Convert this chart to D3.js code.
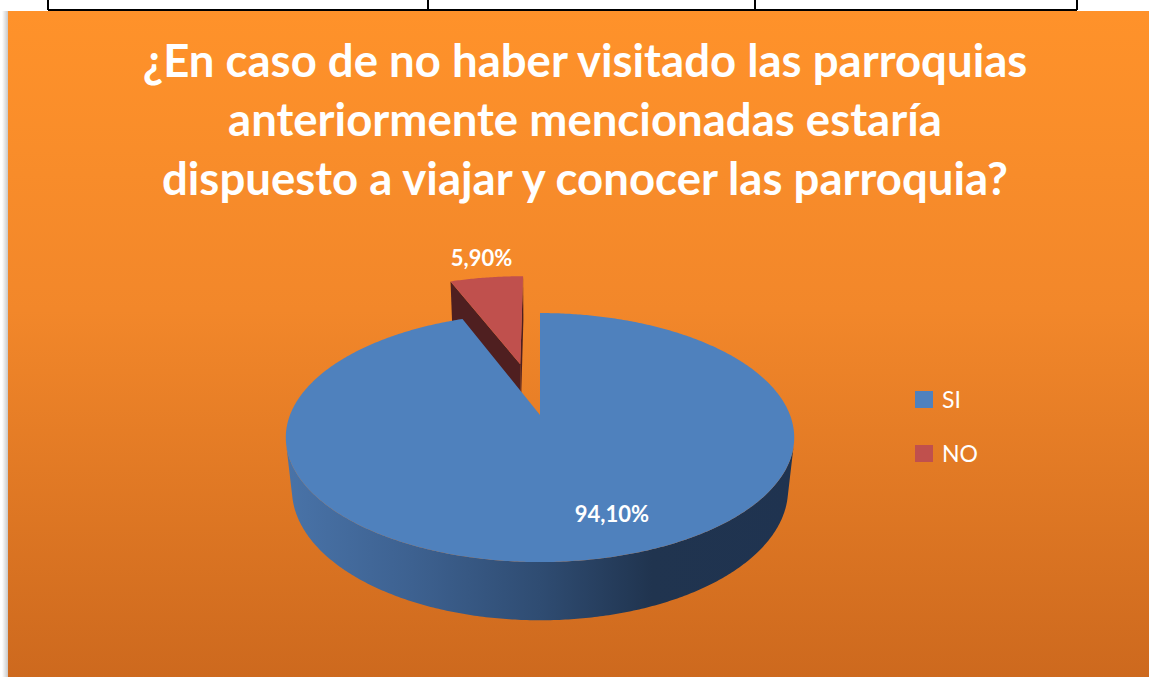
<!DOCTYPE html>
<html><head><meta charset="utf-8">
<script src="https://cdn.jsdelivr.net/npm/d3@7"></script>
<style>body{margin:0;background:#fff;overflow:hidden;} svg{display:block;}</style>
</head><body>
<svg id="chart" width="1149" height="677"></svg>
<script>
// ---- data ----
const titleLines = ["¿En caso de no haber visitado las parroquias",
                    "anteriormente mencionadas estaría",
                    "dispuesto a viajar y conocer las parroquia?"];
const categories = ["SI", "NO"];
const values = [94.1, 5.9];
const valueLabels = ["94,10%", "5,90%"];
const colors = ["#4F81BD", "#C0504D"];
const sideColors = ["#2C4A70", "#4F1F20"];

// ---- layout ----
const W = 1149, H = 677;
const svg = d3.select("#chart");
const defs = svg.append("defs");

const bg = defs.append("linearGradient").attr("id", "bg").attr("x1", 0).attr("y1", 0).attr("x2", 0).attr("y2", 1);
bg.append("stop").attr("offset", "0%").attr("stop-color", "#FF922A");
bg.append("stop").attr("offset", "45%").attr("stop-color", "#F2872A");
bg.append("stop").attr("offset", "100%").attr("stop-color", "#CD691E");

const sh = defs.append("linearGradient").attr("id", "sh").attr("x1", 0).attr("y1", 0).attr("x2", 1).attr("y2", 0);
sh.append("stop").attr("offset", "0%").attr("stop-color", "#ffffff");
sh.append("stop").attr("offset", "100%").attr("stop-color", "#c8c8c8");

// table remnants on top
svg.append("rect").attr("x", 0).attr("y", 0).attr("width", W).attr("height", H).attr("fill", "#fff");
svg.append("rect").attr("x", 2).attr("y", 11).attr("width", 6).attr("height", H - 11).attr("fill", "url(#sh)");
svg.append("rect").attr("x", 8).attr("y", 11).attr("width", W - 8).attr("height", H - 11).attr("fill", "url(#bg)");
const tableCols = [48, 428, 755, 1077];
svg.append("line").attr("x1", tableCols[0]).attr("x2", tableCols[3]).attr("y1", 10).attr("y2", 10)
  .attr("stroke", "#000").attr("stroke-width", 2);
tableCols.forEach(x => svg.append("line").attr("x1", x).attr("x2", x).attr("y1", 0).attr("y2", 10)
  .attr("stroke", "#000").attr("stroke-width", 2));

// ---- title ----
const titleX = 585, titleBase = [77, 136, 195];
const tg = svg.append("g");
const tlines = tg.selectAll("text").data(titleLines).enter().append("text")
  .attr("x", titleX).attr("y", (d, i) => titleBase[i])
  .attr("text-anchor", "middle").attr("fill", "#fff")
  .attr("font-family", "Lato, 'Open Sans', sans-serif").attr("font-weight", "bold")
  .attr("font-size", 40).text(d => d);
const w0 = tlines.nodes()[0].getComputedTextLength();
const fs = 40 * 885 / w0;
tlines.attr("font-size", fs);

// ---- 3D pie projection ----
const R = 250, depth = 60, tilt = 28.8 * Math.PI / 180, D = 1210;
const cx = 540, cy = 415;
const ca = Math.cos(tilt), sa = Math.sin(tilt);
const explode = [0, 116];

function rot(x, yUp, z) { return [x, yUp * ca + z * sa, z * ca - yUp * sa]; }
function proj(x, yUp, z) {
  const [xr, yr, zr] = rot(x, yUp, z);
  const f = D / (D + zr);
  return [cx + xr * f, cy - yr * f];
}
function visible(n, p) {
  const nr = rot(n[0], n[1], n[2]);
  const pr = rot(p[0], p[1], p[2]);
  const v = [-pr[0], -pr[1], -D - pr[2]];
  return nr[0] * v[0] + nr[1] * v[1] + nr[2] * v[2] > 0;
}

const pie = d3.pie().sort(null).value(d => d)(values);
const arcs = pie.map((p, i) => {
  const mid = (p.startAngle + p.endAngle) / 2;
  return { ...p, i, mid, ox: explode[i] * Math.sin(mid), oz: explode[i] * Math.cos(mid) };
});
const line = d3.line();
const STEP = 0.01;
function rimPt(s, a, yUp, r = R) { return [s.ox + r * Math.sin(a), yUp, s.oz + r * Math.cos(a)]; }
function angles(a0, a1) {
  const n = Math.max(2, Math.ceil((a1 - a0) / STEP));
  return d3.range(n + 1).map(k => a0 + (a1 - a0) * k / n);
}

// rim gradient (horizontal across the pie)
const xs = angles(0, 2 * Math.PI).map(a => proj(R * Math.sin(a), 0, R * Math.cos(a))[0]);
const rg = defs.append("linearGradient").attr("id", "rim").attr("gradientUnits", "userSpaceOnUse")
  .attr("x1", d3.min(xs)).attr("x2", d3.max(xs)).attr("y1", 0).attr("y2", 0);
[["0%", "#4973A8"], ["25%", "#3D6190"], ["50%", "#2F4C72"], ["72%", "#20344F"], ["100%", "#1F3350"]]
  .forEach(([o, c]) => rg.append("stop").attr("offset", o).attr("stop-color", c));

// draw back slices first (farther centre first)
const order = arcs.slice().sort((a, b) => b.oz - a.oz);
const pieG = svg.append("g");
order.forEach(s => {
  const g = pieG.append("g");
  // cut faces
  [[s.startAngle, [-Math.cos(s.startAngle), 0, Math.sin(s.startAngle)]],
   [s.endAngle, [Math.cos(s.endAngle), 0, -Math.sin(s.endAngle)]]].forEach(([a, n]) => {
    const mp = rimPt(s, a, -depth / 2, R / 2);
    if (!visible(n, mp)) return;
    const pts = [proj(s.ox, 0, s.oz), proj(...rimPt(s, a, 0)), proj(...rimPt(s, a, -depth)), proj(s.ox, -depth, s.oz)];
    g.append("path").attr("d", line(pts) + "Z").attr("fill", sideColors[s.i]);
  });
  // outer rim: visible segments
  const as = angles(s.startAngle, s.endAngle);
  let seg = [];
  const segs = [];
  as.forEach(a => {
    const v = visible([Math.sin(a), 0, Math.cos(a)], rimPt(s, a, -depth / 2));
    if (v) seg.push(a); else if (seg.length) { segs.push(seg); seg = []; }
  });
  if (seg.length) segs.push(seg);
  segs.forEach(sg => {
    const top = sg.map(a => proj(...rimPt(s, a, 0)));
    const bot = sg.slice().reverse().map(a => proj(...rimPt(s, a, -depth)));
    g.append("path").attr("d", line(top.concat(bot)) + "Z")
      .attr("fill", s.i === 0 ? "url(#rim)" : sideColors[s.i]);
  });
  // top face
  const topPts = [proj(s.ox, 0, s.oz)].concat(as.map(a => proj(...rimPt(s, a, 0))));
  g.append("path").attr("d", line(topPts) + "Z").attr("fill", colors[s.i]);
});

// ---- data labels ----
const labelPos = [
  s => proj(...rimPt(s, s.mid - 0.15, 0, R * 0.76)),
  s => { const p = proj(...rimPt(s, s.mid, 0)); return [p[0] - 5, p[1] - 19]; }
];
arcs.forEach(s => {
  const p = labelPos[s.i](s);
  svg.append("text").attr("x", p[0]).attr("y", p[1]).attr("dy", "0.35em")
    .attr("text-anchor", "middle").attr("fill", "#fff")
    .attr("font-family", "Lato, 'Open Sans', sans-serif").attr("font-weight", "bold")
    .attr("font-size", 22).text(valueLabels[s.i]);
});

// ---- legend ----
const lg = svg.append("g").attr("transform", "translate(915,391)");
const li = lg.selectAll("g").data(categories).enter().append("g")
  .attr("transform", (d, i) => `translate(0,${i * 54})`);
li.append("rect").attr("width", 18).attr("height", 17).attr("fill", (d, i) => colors[i]);
li.append("text").attr("x", 27).attr("y", 17).attr("fill", "#fff")
  .attr("font-family", "Lato, 'Open Sans', sans-serif").attr("font-size", 23).text(d => d);
</script>
</body></html>
